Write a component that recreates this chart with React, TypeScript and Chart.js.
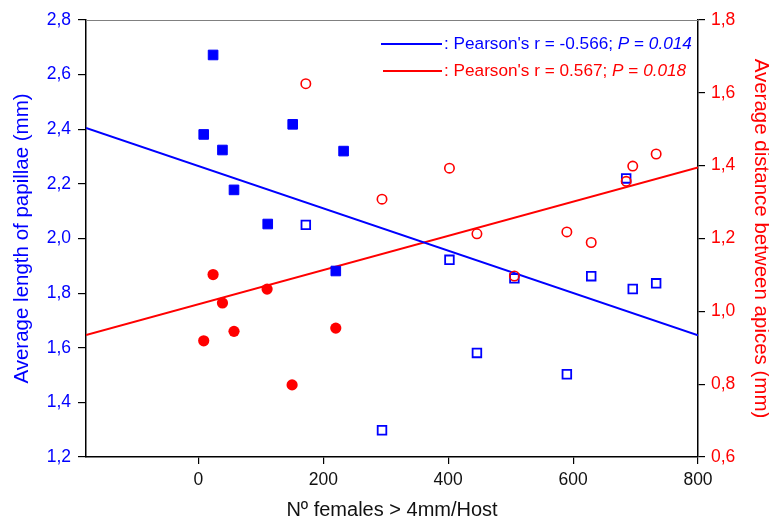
import React, { useEffect, useRef } from 'react';
import { Chart, registerables } from 'chart.js';

Chart.register(...registerables);

const BLUE = '#0000ff';
const RED = '#ff0000';
const FONT = '"Liberation Sans", Arial, sans-serif';

// Axis ticks
const xTicks = [0, 200, 400, 600, 800];
const yLeftTicks = [1.2, 1.4, 1.6, 1.8, 2.0, 2.2, 2.4, 2.6, 2.8];
const yRightTicks = [0.6, 0.8, 1.0, 1.2, 1.4, 1.6, 1.8];

// Closed symbols
const closedPapX = [8.5, 23.5, 38.5, 57, 111, 151, 220, 232.5];
const closedPap = [2.381, 2.672, 2.324, 2.178, 2.053, 2.418, 1.881, 2.32];
const closedApiX = [8.5, 23.5, 38.5, 57, 110, 150, 220];
const closedApi = [0.919, 1.101, 1.023, 0.945, 1.061, 0.798, 0.954];

// Open symbols
const openX = [172, 294, 402, 446, 506, 590, 629, 685, 695.5, 733];
const openPap = [2.05, 1.298, 1.922, 1.581, 1.854, 1.503, 1.862, 2.22, 1.815, 1.836];
const openApi = [1.625, 1.308, 1.393, 1.213, 1.097, 1.218, 1.189, 1.357, 1.399, 1.432];

// Regression lines (end points)
const fitX = [-180, 800];
const fitPap = [2.405, 1.646];
const fitApi = [0.935, 1.395];

// Legend texts
const legendR = ['-0.566', '0.567'];
const legendP = ['0.014', '0.018'];
const legendColors = [BLUE, RED];

const pts = (xs: number[], ys: number[]) => xs.map((x, i) => ({ x, y: ys[i] }));
const comma = (v: number) => v.toFixed(1).replace('.', ',');

const legendPlugin = {
  id: 'pearsonLegend',
  afterDraw(chart: any) {
    const { ctx, chartArea } = chart;
    ctx.save();
    // top frame line
    ctx.strokeStyle = '#808080';
    ctx.lineWidth = 1;
    ctx.beginPath();
    ctx.moveTo(chartArea.left, chartArea.top + 0.5);
    ctx.lineTo(chartArea.right, chartArea.top + 0.5);
    ctx.stroke();

    const rowsY = [chartArea.top + 24, chartArea.top + 51];
    const x0 = chartArea.right - 317;
    const x1 = chartArea.right - 256;
    legendColors.forEach((color, i) => {
      const y = rowsY[i];
      ctx.strokeStyle = color;
      ctx.lineWidth = 2;
      ctx.beginPath();
      ctx.moveTo(x0 + (i === 1 ? 2 : 0), y);
      ctx.lineTo(x1, y);
      ctx.stroke();
      ctx.fillStyle = color;
      ctx.textBaseline = 'middle';
      ctx.textAlign = 'left';
      const normal = `17.2px ${FONT}`;
      const italic = `italic 17.2px ${FONT}`;
      let x = x1 + 2;
      const parts: [string, string][] = [
        [`: Pearson's r = ${legendR[i]}; `, normal],
        ['P', italic],
        [' = ', normal],
        [legendP[i], italic],
      ];
      parts.forEach(([t, f]) => {
        ctx.font = f;
        ctx.fillText(t, x, y);
        x += ctx.measureText(t).width;
      });
    });
    ctx.restore();
  },
};

export default function App() {
  const ref = useRef<HTMLCanvasElement>(null);
  useEffect(() => {
    if (!ref.current) return;
    const chart = new Chart(ref.current, {
      type: 'scatter',
      data: {
        datasets: [
          {
            label: 'closed papillae',
            data: pts(closedPapX, closedPap),
            yAxisID: 'y',
            pointStyle: 'rect',
            pointRadius: 6.8,
            backgroundColor: BLUE,
            borderColor: BLUE,
            borderWidth: 1,
            order: 1,
          },
          {
            label: 'open papillae',
            data: pts(openX, openPap),
            yAxisID: 'y',
            pointStyle: 'rect',
            pointRadius: 6.1,
            backgroundColor: '#ffffff',
            borderColor: BLUE,
            borderWidth: 1.8,
            order: 1,
          },
          {
            label: 'closed apices',
            data: pts(closedApiX, closedApi),
            yAxisID: 'y2',
            pointStyle: 'circle',
            pointRadius: 5.6,
            backgroundColor: RED,
            borderColor: RED,
            borderWidth: 0,
            order: 0,
          },
          {
            label: 'open apices',
            data: pts(openX, openApi),
            yAxisID: 'y2',
            pointStyle: 'circle',
            pointRadius: 4.7,
            backgroundColor: 'rgba(255,255,255,0)',
            borderColor: RED,
            borderWidth: 1.6,
            order: 0,
          },
          {
            label: 'fit papillae',
            data: pts(fitX, fitPap),
            yAxisID: 'y',
            showLine: true,
            pointRadius: 0,
            borderColor: BLUE,
            borderWidth: 2,
            order: 5,
          },
          {
            label: 'fit apices',
            data: pts(fitX, fitApi),
            yAxisID: 'y2',
            showLine: true,
            pointRadius: 0,
            borderColor: RED,
            borderWidth: 2,
            order: 5,
          },
        ],
      },
      options: {
        responsive: false,
        animation: false,
        layout: { padding: { top: 20, left: 0, right: 0, bottom: 0 } },
        plugins: { legend: { display: false }, tooltip: { enabled: false } },
        scales: {
          x: {
            type: 'linear',
            position: 'bottom',
            min: -180,
            max: 800,
            afterBuildTicks: (s: any) => {
              s.ticks = xTicks.map((v) => ({ value: v }));
            },
            afterFit: (s: any) => {
              s.height = 67;
            },
            grid: { drawOnChartArea: false, drawTicks: true, tickLength: 7, color: '#000', lineWidth: 1.2 },
            border: { display: true, color: '#000', width: 1.5 },
            ticks: { color: '#111', padding: 6, font: { family: FONT, size: 17.5 }, maxRotation: 0 },
            title: {
              display: true,
              text: 'Nº females > 4mm/Host',
              color: '#111',
              font: { family: FONT, size: 20 },
              padding: { top: 0, bottom: 2 },
            },
          },
          y: {
            type: 'linear',
            position: 'left',
            min: 1.2,
            max: 2.8,
            afterBuildTicks: (s: any) => {
              s.ticks = yLeftTicks.map((v) => ({ value: v }));
            },
            afterFit: (s: any) => {
              s.width = 86;
            },
            grid: { drawOnChartArea: false, drawTicks: true, tickLength: 8, color: '#000', lineWidth: 1.2 },
            border: { display: true, color: '#000', width: 1.5 },
            ticks: { color: BLUE, padding: 7, font: { family: FONT, size: 17.5 }, callback: (v: any) => comma(Number(v)) },
            title: {
              display: true,
              text: 'Average length of papillae (mm)',
              color: BLUE,
              font: { family: FONT, size: 20.5 },
              padding: { top: 10, bottom: 0 },
            },
          },
          y2: {
            type: 'linear',
            position: 'right',
            min: 0.6,
            max: 1.8,
            afterBuildTicks: (s: any) => {
              s.ticks = yRightTicks.map((v) => ({ value: v }));
            },
            afterFit: (s: any) => {
              s.width = 71;
            },
            grid: { drawOnChartArea: false, drawTicks: true, tickLength: 7, color: '#000', lineWidth: 1.2 },
            border: { display: true, color: '#000', width: 1.5 },
            ticks: { color: RED, padding: 6, font: { family: FONT, size: 17.5 }, callback: (v: any) => comma(Number(v)) },
            title: {
              display: true,
              text: 'Average distance between apices (mm)',
              color: RED,
              font: { family: FONT, size: 20.5 },
              padding: { top: -4, bottom: 0 },
            },
          },
        },
      },
      plugins: [legendPlugin],
    } as any);
    return () => chart.destroy();
  }, []);

  return (
    <div style={{ position: 'fixed', left: 0, top: 0, width: 769, height: 524, background: '#fff' }}>
      <canvas ref={ref} width={769} height={524} style={{ display: 'block', width: 769, height: 524 }} />
    </div>
  );
}
